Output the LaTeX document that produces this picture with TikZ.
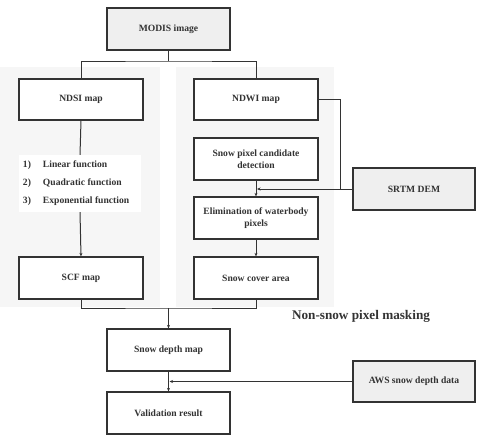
\documentclass[tikz,border=0pt]{standalone}
\usepackage{fontspec}
\setmainfont{Liberation Serif}
\usetikzlibrary{arrows.meta}
\definecolor{ink}{HTML}{333333}
\definecolor{boxgray}{HTML}{EFEFEF}
\definecolor{panel}{HTML}{F6F6F6}
\begin{document}
\begin{tikzpicture}[x=1pt,y=-1pt,
  box/.style={draw=ink,line width=1.3pt,fill=white,minimum width=124pt,minimum height=42pt,inner sep=2pt,align=center,font=\fontsize{9.6}{11.5}\selectfont\bfseries,text=ink},
  graybox/.style={box,fill=boxgray},
  conn/.style={draw=ink,line width=1pt},
  arr/.style={conn,-{Stealth[length=3.5pt,width=3pt]}}]
\useasboundingbox (0,0) rectangle (482,437);
% panels
\fill[panel] (0,67) rectangle (160,307);
\fill[panel] (176,67) rectangle (334,307);
% nodes
\node[graybox,minimum width=123pt] (modis) at (168.5,29) {MODIS image};
\node[box,minimum height=41pt] (ndsi) at (81,99.5) {NDSI map};
\node[box,minimum height=41pt] (ndwi) at (256,99.5) {NDWI map};
\node[fill=white,minimum width=122pt,minimum height=57pt,inner sep=0pt,font=\fontsize{9.6}{11.5}\selectfont\bfseries,text=ink] (list) at (80,183.5)
  {\begin{minipage}{114pt}\begin{tabular}{@{}l@{\hspace{12pt}}l@{}}1) & Linear function\\[6.5pt]2) & Quadratic function\\[6.5pt]3) & Exponential function\end{tabular}\end{minipage}};
\node[box] (scf) at (81,278) {SCF map};
\node[box] (spc) at (256,159) {Snow pixel candidate\\detection};
\node[box] (elim) at (256,218) {Elimination of waterbody\\pixels};
\node[box] (sca) at (256,278) {Snow cover area};
\node[graybox,minimum width=122pt] (srtm) at (414,189) {SRTM DEM};
\node[box,minimum width=123pt] (depth) at (168.5,350) {Snow depth map};
\node[graybox,minimum width=122pt,minimum height=41pt] (aws) at (414,381.5) {AWS snow depth data};
\node[box,minimum width=123pt] (valid) at (168.5,413) {Validation result};
\node[font=\fontsize{13.2}{15}\selectfont\bfseries,text=ink] (label) at (361,316) {Non-snow pixel masking};
% connectors
\coordinate (j1) at (168.5,61);
\draw[conn] (modis.south) -- (j1);
\draw[conn] (ndsi.north) |- (j1) -| (ndwi.north);
\draw[conn] (ndsi.south) -- (list.north);
\draw[arr] (list.south) -- (scf.north);
\coordinate (k) at (340,189);
\draw[conn] (ndwi.east) -| (k);
\draw[conn] (srtm.west) -- (k);
\draw[arr] (k) -- ([xshift=1pt]spc.south |- k);
\draw[arr] (spc.south) -- (elim.north);
\draw[arr] (elim.south) -- (sca.north);
\coordinate (j2) at (168.5,308);
\draw[conn] (scf.south) |- (j2) -| (sca.south);
\draw[arr] (j2) -- (depth.north);
\draw[arr] (depth.south) -- (valid.north);
\draw[arr] (aws.west) -- ([xshift=1pt]depth.south |- aws.west);
\end{tikzpicture}
\end{document}
